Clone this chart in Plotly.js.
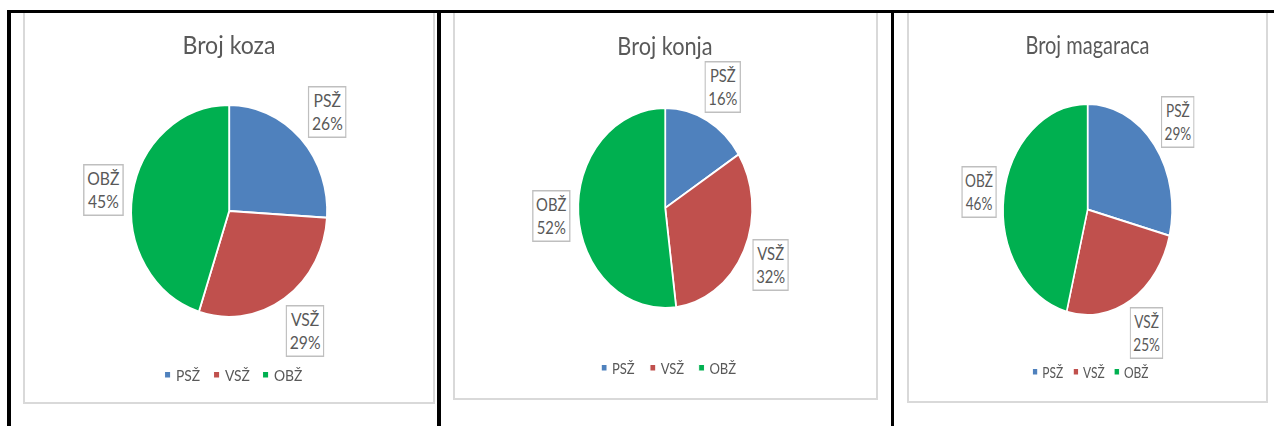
<!DOCTYPE html>
<html>
<head>
<meta charset="utf-8">
<script src="https://cdn.plot.ly/plotly-3.0.1.min.js"></script>
<style>
  html, body { margin:0; padding:0; background:#ffffff; }
  #page { position:relative; width:1274px; height:426px; overflow:hidden; background:#ffffff; }
  .blk { position:absolute; background:#000000; z-index:5; }
  .box { position:absolute; box-sizing:border-box; border:2px solid #D9D9D9; border-top:none; z-index:1; }
  .plot { position:absolute; transform-origin:0 0; z-index:2; }
</style>
</head>
<body>
<div id="page">
  <div class="box" style="left:23px;top:12px;width:412px;height:392px;"></div>
  <div class="box" style="left:453px;top:12px;width:425px;height:388px;"></div>
  <div class="box" style="left:907px;top:12px;width:361px;height:391px;"></div>
  <div class="blk" style="left:7px;top:10px;width:1267px;height:3px;"></div>
  <div class="blk" style="left:7px;top:10px;width:4px;height:416px;"></div>
  <div class="blk" style="left:437px;top:10px;width:4px;height:416px;"></div>
  <div class="blk" style="left:891px;top:10px;width:3px;height:416px;"></div>
  <div id="p0" class="plot"></div>
  <div id="p1" class="plot"></div>
  <div id="p2" class="plot"></div>
</div>
<script>
// ---- data ----
const chartTitles = ['Broj koza', 'Broj konja', 'Broj magaraca'];
const categories = ['PSŽ', 'VSŽ', 'OBŽ'];
const kozaValues = [26, 29, 45];
const konjaValues = [16, 32, 52];
const magaraciValues = [29, 25, 46];
const sliceColors = ['#4F81BD', '#C0504D', '#00B050'];

const seriesValues = [kozaValues, konjaValues, magaraciValues];

// ---- geometry (page pixels) ----
// lx: page x of first legend marker centre; ew: legend entry width (unscaled px)
const geo = [
  {x0:23,  y0:12, w:412, h:392, cx:229,    cy:211,   rx:98,   ry:106,   ty:45, ly:375, lx:167.5, ew:8},
  {x0:453, y0:12, w:425, h:388, cx:665,    cy:208,   rx:87,   ry:100,   ty:46, ly:368, lx:604,   ew:11},
  {x0:907, y0:12, w:361, h:391, cx:1087.5, cy:209.5, rx:84.5, ry:105.5, ty:45, ly:372, lx:1035,  ew:6}
];
const txt = '#595959';
const fontFam = 'Lato, "Open Sans", sans-serif';
const symShift = 11;   // symbol moved closer to its text
const symOffset = 20 + symShift;
const boxHalfW = 22, boxHalfH = 25, labelGap = 9;

geo.forEach((g, i) => {
  const sx = g.rx / g.ry;
  const W = g.w / sx, H = g.h;
  const ux = (g.cx - g.x0) / sx, uy = g.cy - g.y0, R = g.ry;
  const el = document.getElementById('p' + i);
  el.style.left = g.x0 + 'px';
  el.style.top = g.y0 + 'px';
  el.style.width = W + 'px';
  el.style.height = H + 'px';
  el.style.transform = 'scaleX(' + sx + ')';

  const vals = seriesValues[i];
  const total = vals.reduce((a, b) => a + b, 0);
  let cum = 0;
  const annotations = vals.map((v, k) => {
    const mid = (cum + v / 2) / total;
    cum += v;
    const th = mid * 2 * Math.PI;
    const s = Math.sin(th), c = Math.cos(th);
    const ext = Math.min(boxHalfW / Math.max(Math.abs(s), 1e-6), boxHalfH / Math.max(Math.abs(c), 1e-6));
    const d = R + labelGap + ext;
    const px = ux + d * s;
    const py = uy - d * c;
    return {
      text: categories[k] + '<br>' + Math.round(v / total * 100) + '%',
      xref: 'paper', yref: 'paper',
      x: px / W, y: 1 - py / H,
      xanchor: 'center', yanchor: 'middle',
      showarrow: false, align: 'center',
      font: {family: fontFam, size: 17, color: txt},
      bgcolor: '#ffffff', bordercolor: '#BFBFBF', borderwidth: 1.5, borderpad: 3
    };
  });

  const trace = {
    type: 'pie',
    values: vals,
    labels: categories,
    sort: false,
    direction: 'clockwise',
    rotation: 0,
    textinfo: 'none',
    hoverinfo: 'label+percent',
    marker: {colors: sliceColors, line: {color: '#ffffff', width: 2}},
    domain: {
      x: [(ux - R) / W, (ux + R) / W],
      y: [(H - uy - R) / H, (H - uy + R) / H]
    }
  };

  const legLeft = ((g.lx - g.x0) / sx - symOffset) / W;

  const layout = {
    width: W, height: H,
    margin: {l: 0, r: 0, t: 0, b: 0},
    paper_bgcolor: 'rgba(0,0,0,0)',
    plot_bgcolor: 'rgba(0,0,0,0)',
    font: {family: fontFam, color: txt},
    title: {
      text: chartTitles[i],
      x: ux / W, xanchor: 'center',
      y: 1 - (g.ty - g.y0) / H, yanchor: 'middle',
      font: {family: fontFam, size: 25, color: txt}
    },
    showlegend: true,
    legend: {
      orientation: 'h',
      x: legLeft, xanchor: 'left',
      y: 1 - (g.ly - g.y0) / H, yanchor: 'middle',
      font: {family: fontFam, size: 15, color: txt},
      entrywidth: g.ew, entrywidthmode: 'pixels',
      bgcolor: 'rgba(0,0,0,0)', borderwidth: 0
    },
    annotations: annotations
  };

  Plotly.newPlot(el, [trace], layout, {staticPlot: true, displayModeBar: false}).then(gd => {
    gd.querySelectorAll('.legend [clip-path]').forEach(n => n.removeAttribute('clip-path'));
    gd.querySelectorAll('path.legendpie').forEach(p => {
      const t = p.getAttribute('transform') || '';
      p.setAttribute('transform', t + ' translate(' + symShift + ',0) scale(0.55)');
    });
  });
});
</script>
</body>
</html>
